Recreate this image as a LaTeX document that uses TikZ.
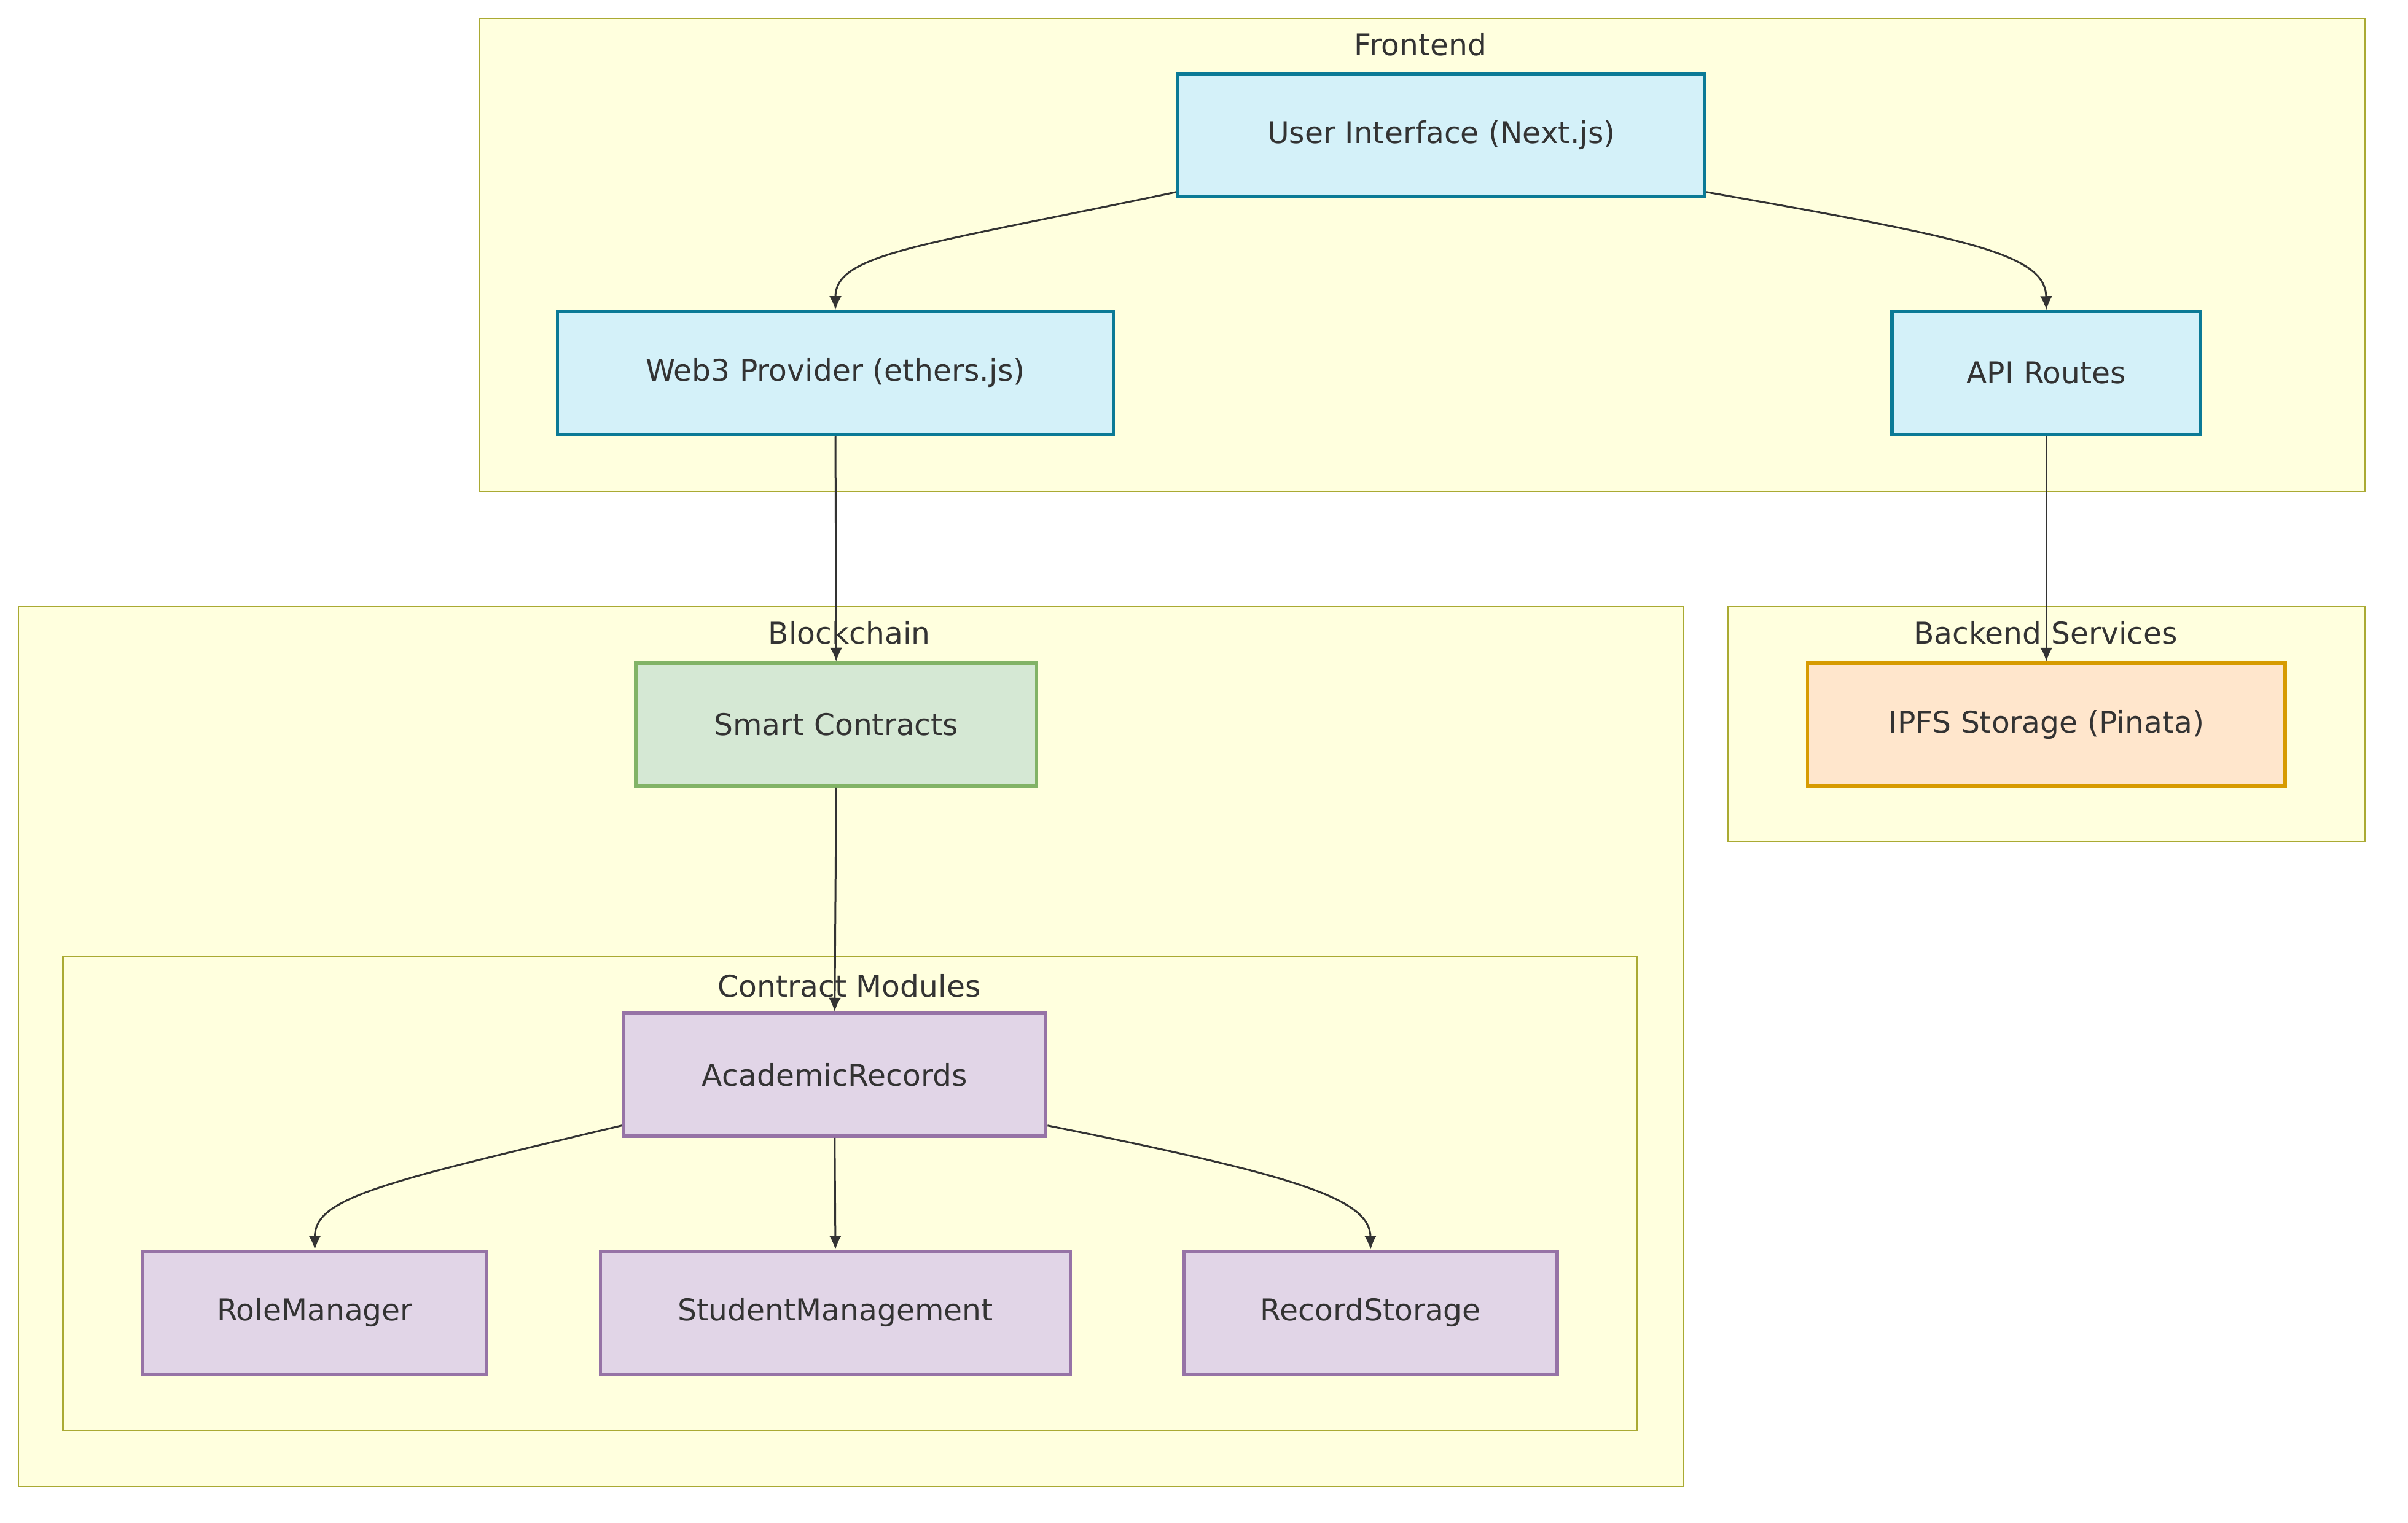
\documentclass[tikz,border=0pt]{standalone}
\usepackage{fontspec}
\setmainfont{DejaVu Sans}
\usetikzlibrary{arrows.meta,calc}
\definecolor{sgfill}{HTML}{FFFFDE}\definecolor{sgline}{HTML}{AAAA33}
\definecolor{bfill}{HTML}{D4F1F9}\definecolor{bline}{HTML}{0B7A96}
\definecolor{gfill}{HTML}{D5E8D4}\definecolor{gline}{HTML}{82B366}
\definecolor{ofill}{HTML}{FFE6CC}\definecolor{oline}{HTML}{D79B00}
\definecolor{pfill}{HTML}{E1D5E7}\definecolor{pline}{HTML}{9673A6}
\definecolor{arr}{HTML}{333333}\definecolor{txt}{HTML}{333333}
\begin{document}
\begin{tikzpicture}[x=1pt,y=-1pt,
 font=\fontsize{19.5}{22}\selectfont, text=txt,
 sg/.style={draw=sgline,fill=sgfill,line width=1pt},
 nd/.style={rectangle,line width=2.2pt,minimum height=80pt,anchor=center},
 blue/.style={nd,draw=bline,fill=bfill},
 green/.style={nd,draw=gline,fill=gfill},
 orange/.style={nd,draw=oline,fill=ofill},
 purple/.style={nd,draw=pline,fill=pfill},
 ar/.style={draw=arr,line width=1.2pt,-{Latex[length=9pt,width=8pt]}}]
\useasboundingbox (0,0) rectangle (1568,992);
\fill[white] (0,0) rectangle (1568,992);
\draw[sg] (312,12) rectangle (1540,320);
\node (lf) at (925,29) {Frontend};
\draw[sg] (12,395) rectangle (1096,968);
\node (lb) at (553,412) {Blockchain};
\draw[sg] (41,623) rectangle (1066,932);
\node (lc) at (553,642) {Contract Modules};
\draw[sg] (1125,395) rectangle (1540,548);
\node (lbs) at (1332,412) {Backend Services};

\node[blue,minimum width=343pt] (ui) at (938.5,88) {User Interface (Next.js)};
\node[blue,minimum width=362pt] (w3) at (544,243) {Web3 Provider (ethers.js)};
\node[blue,minimum width=201pt] (api) at (1332.5,243) {API Routes};
\node[green,minimum width=261pt] (sc) at (544.5,472) {Smart Contracts};
\node[orange,minimum width=311pt] (ipfs) at (1332.5,472) {IPFS Storage (Pinata)};
\node[purple,minimum width=275pt] (ar) at (543.5,700) {AcademicRecords};
\node[purple,minimum width=224pt] (rm) at (205,855) {RoleManager};
\node[purple,minimum width=306pt] (sm) at (544,855) {StudentManagement};
\node[purple,minimum width=243pt] (rs) at (892.5,855) {RecordStorage};

\draw[ar] ($(ui.south west)+(0,-4)$) .. controls (600,160) and (544,165) .. (w3.north);
\draw[ar] ($(ui.south east)+(0,-4)$) .. controls (1280,155) and (1332,165) .. (api.north);
\draw[ar] (w3.south) -- (sc.north);
\draw[ar] (api.south) -- (ipfs.north);
\draw[ar] (sc.south) -- (ar.north);
\draw[ar] ($(ar.south west)+(0,-8)$) .. controls (250,770) and (205,780) .. (rm.north);
\draw[ar] (ar.south) -- (sm.north);
\draw[ar] ($(ar.south east)+(0,-8)$) .. controls (840,765) and (892,780) .. (rs.north);
\end{tikzpicture}
\end{document}
